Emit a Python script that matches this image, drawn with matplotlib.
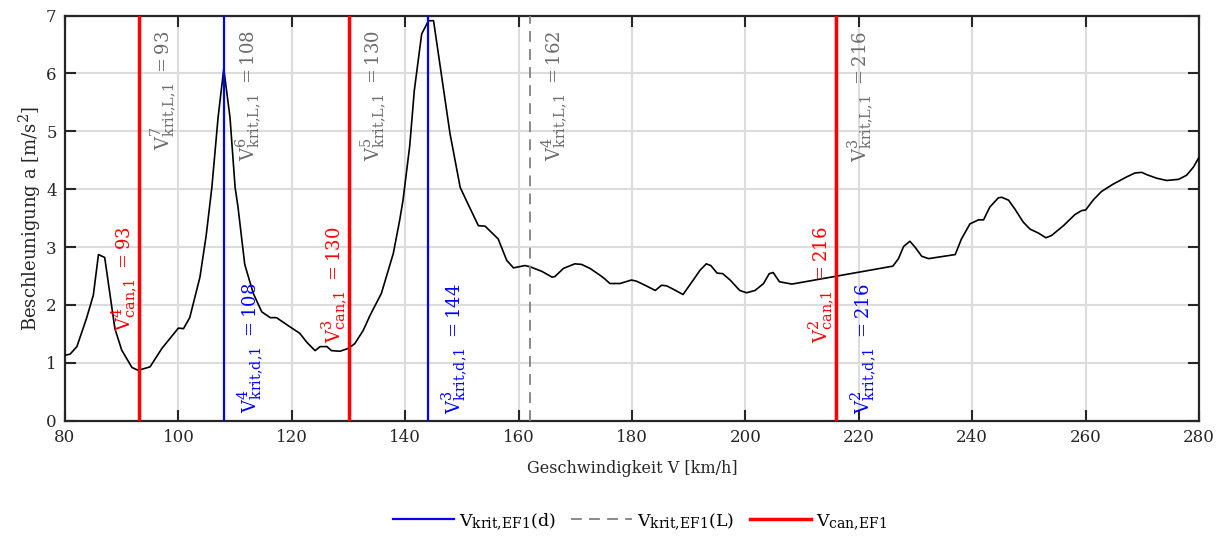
import numpy as np
import matplotlib
matplotlib.use('Agg')
import matplotlib.pyplot as plt
import matplotlib._mathtext as mt

plt.rcParams['font.family'] = ['DejaVu Serif']
plt.rcParams['mathtext.fontset'] = 'custom'
plt.rcParams['mathtext.rm'] = 'DejaVu Serif'
# groessere Hoch-/Tiefstellung wie im Original
mt.SHRINK_FACTOR = 0.8

# Messkurve: Geschwindigkeit V [km/h] / Beschleunigung a [m/s^2]
speed = [80.0, 80.9, 82.1, 83.8, 85.0, 85.9, 87.0, 88.8, 90.0, 91.8, 92.9, 95.0, 97.1,
         100.0, 100.9, 102.0, 103.8, 104.9, 105.9, 107.0, 108.0, 109.1, 110.0, 110.5,
         111.7, 113.2, 114.7, 116.2, 117.3, 119.7, 121.4, 122.6, 124.1, 125.0, 126.2,
         127.0, 128.5, 130.0, 131.1, 132.6, 133.8, 135.8, 137.9, 139.0, 139.6, 140.8,
         141.6, 142.9, 144.1, 145.0, 146.7, 147.9, 149.7, 150.8, 152.9, 154.1, 156.4, 157.9,
         159.1, 161.1, 162.0, 164.1, 165.9, 166.4, 167.9, 169.9, 171.1, 172.6, 174.4,
         175.2, 176.1, 177.9, 179.9, 180.8, 182.3, 184.1, 185.2, 186.1, 187.3, 189.0,
         190.8, 192.0, 193.1, 193.9, 195.0, 196.0, 197.3, 199.0, 200.2, 201.7, 203.2,
         204.2, 204.9, 206.0, 208.2, 226.0, 227.0, 227.9, 229.0, 229.9, 231.1, 232.3,
         237.0, 238.1, 239.6, 241.1, 242.0, 243.1, 244.6, 245.2, 246.4, 247.5, 249.0,
         250.2, 251.7, 253.0, 254.0, 256.1, 258.1, 259.3, 260.0, 261.4, 262.8, 264.9,
         267.2, 268.7, 269.9, 270.8, 272.5, 274.3, 276.4, 277.8, 279.0, 280.0]
accel = [1.13, 1.15, 1.28, 1.77, 2.17, 2.87, 2.82, 1.59, 1.22, 0.92, 0.87, 0.93, 1.25,
         1.60, 1.59, 1.78, 2.48, 3.20, 4.03, 5.24, 6.08, 5.24, 4.03, 3.70,
         2.70, 2.20, 1.88, 1.78, 1.78, 1.62, 1.51, 1.36, 1.21, 1.28, 1.28,
         1.21, 1.20, 1.25, 1.33, 1.56, 1.82, 2.20, 2.89, 3.45, 3.80, 4.75,
         5.70, 6.68, 6.91, 6.91, 5.76, 4.96, 4.03, 3.80, 3.37, 3.36, 3.14, 2.77,
         2.64, 2.68, 2.66, 2.58, 2.48, 2.49, 2.63, 2.71, 2.70, 2.63, 2.51,
         2.45, 2.37, 2.37, 2.43, 2.41, 2.34, 2.25, 2.34, 2.33, 2.27, 2.18,
         2.43, 2.60, 2.71, 2.68, 2.55, 2.54, 2.43, 2.25, 2.21, 2.25, 2.37,
         2.54, 2.56, 2.40, 2.36, 2.67, 2.80, 3.01, 3.10, 3.00, 2.84, 2.80,
         2.87, 3.14, 3.40, 3.47, 3.47, 3.69, 3.85, 3.86, 3.81, 3.66, 3.43,
         3.31, 3.24, 3.16, 3.20, 3.37, 3.56, 3.63, 3.64, 3.82, 3.96, 4.09,
         4.21, 4.28, 4.29, 4.25, 4.19, 4.15, 4.17, 4.24, 4.38, 4.55]

# kritische Geschwindigkeiten
v_krit_L = [93, 108, 130, 162, 216]
n_krit_L = [7, 6, 5, 4, 3]
v_krit_d = [108, 144, 216]
n_krit_d = [4, 3, 2]
v_can = [93, 130, 216]
n_can = [4, 3, 2]

fig = plt.figure(figsize=(12.24, 5.41), dpi=100)
ax = fig.add_axes([0.0531, 0.2224, 0.9265, 0.7489])

ax.plot(speed, accel, color='k', lw=1.2, zorder=3)

for v in v_krit_L:
    ax.axvline(v, color='#808080', ls=(0, (6, 4)), lw=1.3, zorder=4)
for v in v_krit_d:
    ax.axvline(v, color='#0000ff', lw=1.6, zorder=5)
for v in v_can:
    ax.axvline(v, color='#ff0000', lw=2.5, zorder=6)

for v, n in zip(v_krit_L, n_krit_L):
    ax.text(v + 4.3, 6.74, r'$\mathregular{V^{%d}_{krit{,}L{,}1}\ = %d}$' % (n, v),
            rotation=90, ha='center', va='top', color='#6b6b6b', fontsize=13, zorder=7)
for v, n in zip(v_krit_d, n_krit_d):
    ax.text(v + 4.7, 2.38, r'$\mathregular{V^{%d}_{krit{,}d{,}1}\ = %d}$' % (n, v),
            rotation=90, ha='center', va='top', color='#0000ff', fontsize=13, zorder=7)
for v, n in zip(v_can, n_can):
    ax.text(v - 2.6, 3.36, r'$\mathregular{V^{%d}_{can{,}1}\ = %d}$' % (n, v),
            rotation=90, ha='center', va='top', color='#ff0000', fontsize=13, zorder=7)

ax.set_xlim(80, 280)
ax.set_ylim(0, 7)
ax.set_xticks(np.arange(80, 281, 20))
ax.set_yticks(np.arange(0, 8, 1))
ax.grid(True, color='#dcdcdc', lw=1.5, zorder=0)
ax.set_axisbelow(True)
ax.tick_params(direction='in', top=True, right=True, length=8, width=1.5,
               colors='#262626', labelsize=12, pad=6)
for s in ax.spines.values():
    s.set_linewidth(1.6)
    s.set_color('#262626')

ax.set_xlabel('Geschwindigkeit V [km/h]', fontsize=11.5, color='#262626', labelpad=10)
ax.set_ylabel(r'Beschleunigung a [m/s$^2$]', fontsize=13, color='#262626', labelpad=2)

h1, = ax.plot([], [], color='#0000ff', lw=1.6)
h2, = ax.plot([], [], color='#808080', ls=(0, (6, 4)), lw=1.3)
h3, = ax.plot([], [], color='#ff0000', lw=2.5)
fig.legend([h1, h2, h3],
           [r'$\mathregular{V_{krit{,}EF1}(d)}$', r'$\mathregular{V_{krit{,}EF1}(L)}$',
            r'$\mathregular{V_{can{,}EF1}}$'],
           loc='center', bbox_to_anchor=(0.523, 0.036), ncol=3, frameon=False,
           fontsize=12.5, handlelength=3.5, handletextpad=0.3, columnspacing=0.9)

fig.savefig('out.png', dpi=100)
